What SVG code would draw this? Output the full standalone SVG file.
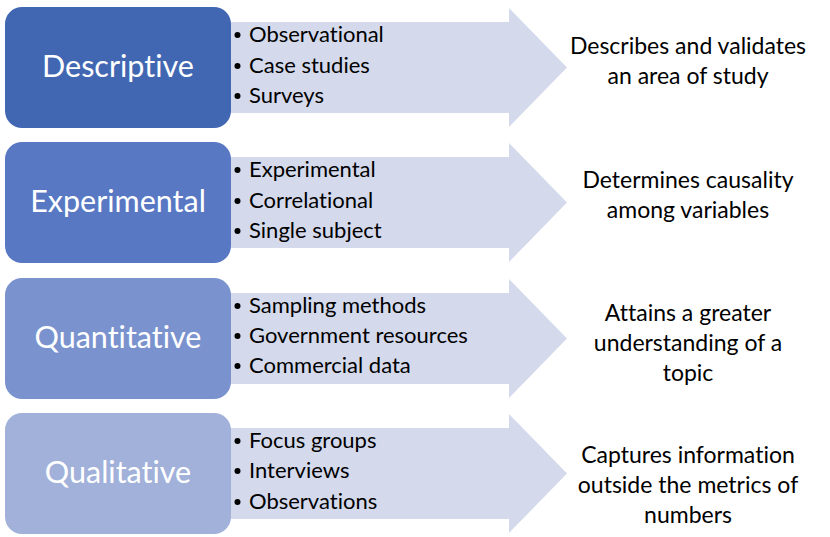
<svg xmlns="http://www.w3.org/2000/svg" width="830" height="537" viewBox="0 0 830 537">
<style>
text{font-variant-ligatures:none;font-feature-settings:"liga" 0}
.arrow{fill:#D4DAEC}
.lbl{font-family:Lato,"Open Sans","Liberation Sans",sans-serif;font-size:30.5px;fill:#FFFFFF;text-anchor:middle}
.item{font-family:Lato,"Open Sans","Liberation Sans",sans-serif;font-size:22px;fill:#000000}
.res{font-family:Lato,"Open Sans","Liberation Sans",sans-serif;font-size:23px;fill:#000000;text-anchor:middle}
.dot{fill:#000000}
</style>
<defs>
<path id="arr" d="M200,15 H509 V1 L567,60.5 L509,120 V106 H200 Z"/>
</defs>
<rect width="830" height="537" fill="#FFFFFF"/>
<g id="connectors">
<use href="#arr" class="arrow" transform="translate(0,7)"/>
<use href="#arr" class="arrow" transform="translate(0,142)"/>
<use href="#arr" class="arrow" transform="translate(0,278)"/>
<use href="#arr" class="arrow" transform="translate(0,413)"/>
</g>
<g id="descriptive">
<rect x="5" y="7" width="226" height="121" rx="17" fill="#4267B2"/>
<text class="lbl" x="118" y="77">Descriptive</text>
</g>
<g id="descriptive-items">
<circle class="dot" cx="237.5" cy="35" r="3"/><text class="item" x="249" y="42">Observational</text>
<circle class="dot" cx="237.5" cy="66" r="3"/><text class="item" x="249" y="73">Case studies</text>
<circle class="dot" cx="237.5" cy="96" r="3"/><text class="item" x="249" y="103">Surveys</text>
</g>
<g id="descriptive-result">
<text class="res" x="688" y="54">Describes and validates</text>
<text class="res" x="688" y="84">an area of study</text>
</g>
<g id="experimental">
<rect x="5" y="142" width="226" height="121" rx="17" fill="#5878C4"/>
<text class="lbl" x="118" y="212">Experimental</text>
</g>
<g id="experimental-items">
<circle class="dot" cx="237.5" cy="170" r="3"/><text class="item" x="249" y="177">Experimental</text>
<circle class="dot" cx="237.5" cy="201" r="3"/><text class="item" x="249" y="208">Correlational</text>
<circle class="dot" cx="237.5" cy="231" r="3"/><text class="item" x="249" y="238">Single subject</text>
</g>
<g id="experimental-result">
<text class="res" x="688" y="188">Determines causality</text>
<text class="res" x="688" y="218">among variables</text>
</g>
<g id="quantitative">
<rect x="5" y="278" width="226" height="121" rx="17" fill="#7A93CE"/>
<text class="lbl" x="118" y="348">Quantitative</text>
</g>
<g id="quantitative-items">
<circle class="dot" cx="237.5" cy="306" r="3"/><text class="item" x="249" y="313">Sampling methods</text>
<circle class="dot" cx="237.5" cy="336" r="3"/><text class="item" x="249" y="343">Government resources</text>
<circle class="dot" cx="237.5" cy="366" r="3"/><text class="item" x="249" y="373">Commercial data</text>
</g>
<g id="quantitative-result">
<text class="res" x="688" y="321">Attains a greater</text>
<text class="res" x="688" y="351">understanding of a</text>
<text class="res" x="688" y="381">topic</text>
</g>
<g id="qualitative">
<rect x="5" y="413" width="226" height="121" rx="17" fill="#A1B1DA"/>
<text class="lbl" x="118" y="483">Qualitative</text>
</g>
<g id="qualitative-items">
<circle class="dot" cx="237.5" cy="441" r="3"/><text class="item" x="249" y="448">Focus groups</text>
<circle class="dot" cx="237.5" cy="471" r="3"/><text class="item" x="249" y="478">Interviews</text>
<circle class="dot" cx="237.5" cy="502" r="3"/><text class="item" x="249" y="509">Observations</text>
</g>
<g id="qualitative-result">
<text class="res" x="688" y="463">Captures information</text>
<text class="res" x="688" y="493">outside the metrics of</text>
<text class="res" x="688" y="523">numbers</text>
</g>
</svg>
